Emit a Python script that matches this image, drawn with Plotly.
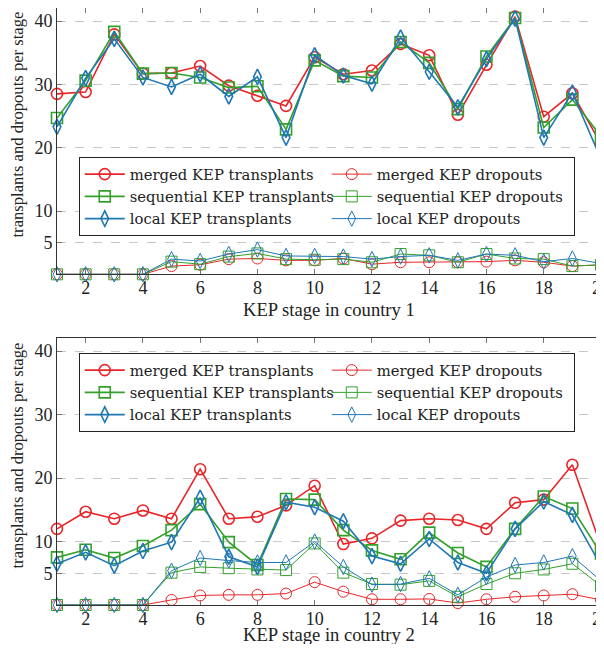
import plotly.graph_objects as go

stages = list(range(1, 21))

# Country 1
c1_merged_tx = [28.5, 28.8, 37.9, 31.7, 31.8, 32.9, 29.8, 28.2, 26.6, 34.3, 31.6, 32.2, 36.4, 34.6, 25.2, 33.1, 40.7, 24.9, 28.6, 20.6]
c1_seq_tx    = [24.7, 30.6, 38.3, 31.7, 31.8, 31.1, 29.5, 29.7, 22.9, 33.8, 31.3, 31.1, 36.7, 33.4, 26.1, 34.4, 40.5, 23.2, 27.6, 21.8]
c1_local_tx  = [23.3, 31.0, 37.2, 31.1, 29.6, 31.6, 28.1, 31.2, 21.6, 34.6, 31.4, 30.1, 37.4, 32.0, 26.4, 34.0, 40.4, 21.6, 28.7, 18.2]
c1_merged_do = [0, 0, 0, 0, 1.3, 1.5, 2.4, 2.5, 2.2, 2.2, 2.5, 1.6, 1.9, 1.9, 1.9, 2.0, 2.2, 1.9, 1.3, 1.5]
c1_seq_do    = [0, 0, 0, 0, 2.0, 1.6, 2.8, 3.3, 2.4, 2.3, 2.4, 1.9, 3.2, 3.0, 1.9, 3.2, 2.5, 2.4, 1.3, 1.5]
c1_local_do  = [0, 0, 0, 0, 2.4, 2.1, 3.2, 3.9, 2.9, 2.9, 2.8, 2.4, 2.8, 3.0, 2.2, 3.2, 3.0, 2.0, 2.5, 1.7]

# Country 2
c2_merged_tx = [12.0, 14.7, 13.6, 14.9, 13.6, 21.4, 13.6, 13.9, 15.7, 18.8, 9.6, 10.5, 13.3, 13.6, 13.4, 12.0, 16.1, 16.6, 22.1, 9.3]
c2_seq_tx    = [7.5, 8.7, 7.4, 9.3, 11.8, 15.9, 9.9, 6.3, 16.7, 16.6, 11.8, 8.6, 7.2, 11.4, 8.2, 6.0, 12.0, 17.1, 15.2, 8.1]
c2_local_tx  = [6.5, 8.3, 6.2, 8.5, 9.9, 16.9, 7.6, 6.0, 16.2, 15.4, 13.2, 7.7, 6.5, 10.4, 6.7, 5.0, 12.0, 16.3, 14.2, 6.2]
c2_merged_do = [0, 0, 0, 0, 0.8, 1.5, 1.6, 1.6, 1.8, 3.6, 2.1, 0.9, 0.9, 0.95, 0.3, 0.9, 1.3, 1.5, 1.7, 0.8]
c2_seq_do    = [0, 0, 0, 0, 5.1, 6.0, 5.8, 5.6, 5.5, 9.7, 5.1, 3.3, 3.2, 3.8, 1.3, 3.3, 5.0, 5.6, 6.5, 3.0]
c2_local_do  = [0, 0, 0, 0, 5.4, 7.4, 7.0, 6.7, 6.7, 10.0, 6.0, 3.2, 3.3, 4.2, 1.6, 4.4, 6.3, 6.7, 7.7, 3.8]

x_ticks = [2, 4, 6, 8, 10, 12, 14, 16, 18, 20]
y_ticks = [5, 10, 20, 30, 40]

x_titles = ["KEP stage in country 1", "KEP stage in country 2"]
y_title = "transplants and dropouts per stage"

RED = "#e8262a"
GREEN = "#33a02c"
BLUE = "#1f77b4"
FONT = "Liberation Serif"
LFONT = "DejaVu Serif"

names = ["merged KEP transplants", "merged KEP dropouts",
         "sequential KEP transplants", "sequential KEP dropouts",
         "local KEP transplants", "local KEP dropouts"]

fig = go.Figure()

def add_set(data, xa, ya, legend):
    styles = [
        (RED, "circle-open", 1.6, 11),
        (RED, "circle-open", 1.0, 11),
        (GREEN, "square-open", 1.6, 11),
        (GREEN, "square-open", 1.0, 11),
        (BLUE, "diamond-tall-open", 1.6, 11),
        (BLUE, "diamond-tall-open", 1.0, 11),
    ]
    for name, vals, (col, sym, lw, ms) in zip(names, data, styles):
        fig.add_trace(go.Scatter(
            x=stages, y=vals, name=name, mode="lines+markers",
            line=dict(color=col, width=lw),
            marker=dict(symbol=sym, size=ms, color=col, line=dict(color=col, width=lw)),
            xaxis=xa, yaxis=ya, legend=legend, cliponaxis=False,
        ))

add_set([c1_merged_tx, c1_merged_do, c1_seq_tx, c1_seq_do, c1_local_tx, c1_local_do], "x", "y", "legend")
add_set([c2_merged_tx, c2_merged_do, c2_seq_tx, c2_seq_do, c2_local_tx, c2_local_do], "x2", "y2", "legend2")

axis_common = dict(showline=True, linecolor="#333", linewidth=1, mirror="ticks",
                   ticks="inside", ticklen=5, tickcolor="#777", tickwidth=1,
                   tickfont=dict(family=FONT, size=18, color="#222"), zeroline=False,
                   automargin=False)

xa = dict(range=[1, 20], tickvals=x_ticks, showgrid=False, ticklabeloverflow="allow",
          ticklabelstandoff=-3, **axis_common)
ya = dict(range=[0, 42.07], tickvals=y_ticks, showgrid=True, gridcolor="#c8c8c8",
          griddash="dash", gridwidth=1, **axis_common)

legend_common = dict(orientation="h", x=0.04, xanchor="left", yanchor="top",
                     bgcolor="white", bordercolor="#222", borderwidth=1,
                     font=dict(family=LFONT, size=14.8, color="#222"),
                     entrywidth=192, itemwidth=40, tracegroupgap=0)

# figure geometry (px, figure coords)
W, H = 596, 636
L, R, T = 49, 3, 0
B = H - 597
PH = H - T - B
PW = W - L - R

def ypaper(py):
    return (PH - py) / PH

def xpaper(px):
    return (px - L) / PW

annotations = []
for yc in (116.5, 447.5):
    annotations.append(dict(text=y_title, textangle=-90, xref="paper", yref="paper",
                            x=xpaper(9), y=ypaper(yc), xanchor="center", yanchor="middle",
                            showarrow=False, font=dict(family=FONT, size=16.6, color="#222")))
for txt, yc in zip(x_titles, (301.5, 626.5)):
    annotations.append(dict(text=txt, xref="paper", yref="paper",
                            x=xpaper(321), y=ypaper(yc), xanchor="center", yanchor="middle",
                            showarrow=False, font=dict(family=FONT, size=18.6, color="#222")))

fig.update_layout(
    width=W, height=H,
    margin=dict(l=L, r=R, t=T, b=B),
    plot_bgcolor="white", paper_bgcolor="white",
    font=dict(family=FONT, size=18, color="#222"),
    xaxis=dict(domain=[0, 1], anchor="y", **xa),
    yaxis=dict(domain=[ypaper(266.3), 1.0], anchor="x", **ya),
    xaxis2=dict(domain=[0, 1], anchor="y2", **xa),
    yaxis2=dict(domain=[0.0, ypaper(330)], anchor="x2", **ya),
    legend=dict(y=ypaper(149), **legend_common),
    legend2=dict(y=ypaper(345), **legend_common),
    annotations=annotations,
    showlegend=True,
)

fig.write_html("out.html")
